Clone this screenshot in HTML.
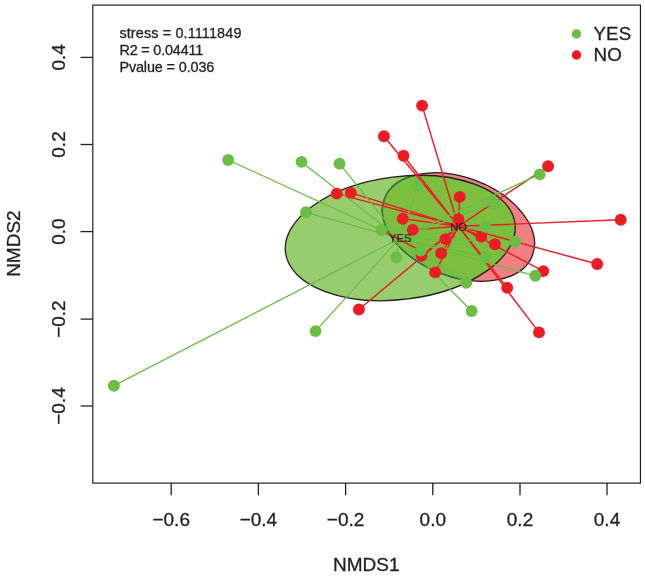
<!DOCTYPE html>
<html lang="en"><head><meta charset="utf-8"><title>NMDS ordination</title>
<style>
html,body{margin:0;padding:0;background:#fff}
svg{display:block;filter:blur(0.35px)}
text{font-family:"Liberation Sans",sans-serif;fill:#231f20;stroke:#231f20;stroke-width:0.3px}
.ax{font-size:19px}
.lg{font-size:18.8px}
.st{font-size:14.4px}
.cl{font-size:11.1px;stroke-width:0.15px}
</style></head><body>
<svg width="645" height="576" viewBox="0 0 645 576">
<rect width="645" height="576" fill="#fff"/>
<defs>
<clipPath id="cg"><ellipse cx="400.23" cy="238.02" rx="115.66" ry="61.44" transform="rotate(-7.2 400.23 238.02)" /></clipPath>
<clipPath id="cr"><ellipse cx="458.44" cy="227.0" rx="79.22" ry="49.58" transform="rotate(20.88 458.44 227.0)" /></clipPath>
</defs>
<ellipse cx="458.44" cy="227.0" rx="79.22" ry="49.58" transform="rotate(20.88 458.44 227.0)" fill="#f18083"/>
<ellipse cx="400.23" cy="238.02" rx="115.66" ry="61.44" transform="rotate(-7.2 400.23 238.02)" fill="#97cd6c"/>
<g clip-path="url(#cr)"><ellipse cx="400.23" cy="238.02" rx="115.66" ry="61.44" transform="rotate(-7.2 400.23 238.02)" fill="#7cbf3e"/></g>
<ellipse cx="458.44" cy="227.0" rx="79.22" ry="49.58" transform="rotate(20.88 458.44 227.0)" fill="none" stroke="#231f20" stroke-width="1.3"/>
<g clip-path="url(#cg)"><ellipse cx="458.44" cy="227.0" rx="79.22" ry="49.58" transform="rotate(20.88 458.44 227.0)" fill="none" stroke="#1f8a4c" stroke-width="1.1"/></g>
<ellipse cx="400.23" cy="238.02" rx="115.66" ry="61.44" transform="rotate(-7.2 400.23 238.02)" fill="none" stroke="#231f20" stroke-width="1.3"/>
<g stroke="#ed1c24" stroke-width="1.45" fill="none">
<line x1="422.1" y1="105.6" x2="458.4" y2="226.3"/>
<line x1="383.9" y1="136.3" x2="458.4" y2="226.3"/>
<line x1="403.5" y1="155.7" x2="458.4" y2="226.3"/>
<line x1="548.1" y1="166.3" x2="458.4" y2="226.3"/>
<line x1="336.7" y1="193.6" x2="458.4" y2="226.3"/>
<line x1="350.9" y1="192.9" x2="458.4" y2="226.3"/>
<line x1="620.7" y1="219.8" x2="458.4" y2="226.3"/>
<line x1="597.2" y1="264" x2="458.4" y2="226.3"/>
<line x1="543.3" y1="271.1" x2="458.4" y2="226.3"/>
<line x1="507.2" y1="287.7" x2="458.4" y2="226.3"/>
<line x1="539" y1="332.4" x2="458.4" y2="226.3"/>
<line x1="358.9" y1="309.5" x2="458.4" y2="226.3"/>
<line x1="459.7" y1="196.9" x2="458.4" y2="226.3"/>
<line x1="458.4" y1="219.4" x2="458.4" y2="226.3"/>
<line x1="402.8" y1="218.7" x2="458.4" y2="226.3"/>
<line x1="412.7" y1="229.9" x2="458.4" y2="226.3"/>
<line x1="445.4" y1="239.1" x2="458.4" y2="226.3"/>
<line x1="441.2" y1="253.2" x2="458.4" y2="226.3"/>
<line x1="421.6" y1="255.8" x2="458.4" y2="226.3"/>
<line x1="435.2" y1="272.4" x2="458.4" y2="226.3"/>
<line x1="481.3" y1="236.5" x2="458.4" y2="226.3"/>
<line x1="494.9" y1="244.3" x2="458.4" y2="226.3"/>
</g>
<g stroke="#6abd45" stroke-width="1.3" fill="none">
<line x1="306" y1="212.3" x2="399.6" y2="238.4"/>
<line x1="417.6" y1="186.2" x2="399.6" y2="238.4"/>
<line x1="381.5" y1="230.0" x2="399.6" y2="238.4"/>
<line x1="396.3" y1="257.3" x2="399.6" y2="238.4"/>
<line x1="420.6" y1="250.6" x2="399.6" y2="238.4"/>
<line x1="493.9" y1="203.3" x2="399.6" y2="238.4"/>
<line x1="485.2" y1="226.7" x2="399.6" y2="238.4"/>
<line x1="485.6" y1="257" x2="399.6" y2="238.4"/>
<line x1="466.2" y1="282.8" x2="399.6" y2="238.4"/>
<line x1="113.9" y1="385.7" x2="399.6" y2="238.4"/>
<line x1="228.2" y1="160" x2="399.6" y2="238.4"/>
<line x1="301.5" y1="161.9" x2="399.6" y2="238.4"/>
<line x1="339.5" y1="163.6" x2="399.6" y2="238.4"/>
<line x1="315.5" y1="331.1" x2="399.6" y2="238.4"/>
<line x1="539.7" y1="174.4" x2="399.6" y2="238.4"/>
<line x1="535.3" y1="275.8" x2="399.6" y2="238.4"/>
<line x1="515.3" y1="241.7" x2="399.6" y2="238.4"/>
<line x1="471.6" y1="311" x2="399.6" y2="238.4"/>
</g>
<line x1="381.5" y1="230.0" x2="420.6" y2="250.6" stroke="#ed1c24" stroke-width="1.45"/>
<g fill="#ed1c24">
<circle cx="422.1" cy="105.6" r="5.95"/>
<circle cx="383.9" cy="136.3" r="5.95"/>
<circle cx="403.5" cy="155.7" r="5.95"/>
<circle cx="548.1" cy="166.3" r="5.95"/>
<circle cx="336.7" cy="193.6" r="5.95"/>
<circle cx="350.9" cy="192.9" r="5.95"/>
<circle cx="620.7" cy="219.8" r="5.95"/>
<circle cx="597.2" cy="264" r="5.95"/>
<circle cx="543.3" cy="271.1" r="5.95"/>
<circle cx="507.2" cy="287.7" r="5.95"/>
<circle cx="539" cy="332.4" r="5.95"/>
<circle cx="358.9" cy="309.5" r="5.95"/>
<circle cx="459.7" cy="196.9" r="5.95"/>
<circle cx="458.4" cy="219.4" r="5.95"/>
<circle cx="402.8" cy="218.7" r="5.95"/>
<circle cx="412.7" cy="229.9" r="5.95"/>
<circle cx="445.4" cy="239.1" r="5.95"/>
<circle cx="441.2" cy="253.2" r="5.95"/>
<circle cx="421.6" cy="255.8" r="5.95"/>
<circle cx="435.2" cy="272.4" r="5.95"/>
<circle cx="481.3" cy="236.5" r="5.95"/>
<circle cx="494.9" cy="244.3" r="5.95"/>
</g>
<g fill="#6abd45">
<circle cx="306" cy="212.3" r="5.95"/>
<circle cx="417.6" cy="186.2" r="5.95"/>
<circle cx="381.5" cy="230.0" r="5.95"/>
<circle cx="396.3" cy="257.3" r="5.95"/>
<circle cx="420.6" cy="250.6" r="5.95"/>
<circle cx="493.9" cy="203.3" r="5.95"/>
<circle cx="485.2" cy="226.7" r="5.95"/>
<circle cx="485.6" cy="257" r="5.95"/>
<circle cx="466.2" cy="282.8" r="5.95"/>
<circle cx="113.9" cy="385.7" r="5.95"/>
<circle cx="228.2" cy="160" r="5.95"/>
<circle cx="301.5" cy="161.9" r="5.95"/>
<circle cx="339.5" cy="163.6" r="5.95"/>
<circle cx="315.5" cy="331.1" r="5.95"/>
<circle cx="539.7" cy="174.4" r="5.95"/>
<circle cx="535.3" cy="275.8" r="5.95"/>
<circle cx="515.3" cy="241.7" r="5.95"/>
<circle cx="471.6" cy="311" r="5.95"/>
</g>
<text class="cl" x="400.2" y="242.3" text-anchor="middle">YES</text>
<text class="cl" x="458.6" y="230.8" text-anchor="middle">NO</text>
<rect x="92.8" y="5.1" width="547.6500000000001" height="478.0" fill="none" stroke="#231f20" stroke-width="1.2"/>
<g stroke="#231f20" stroke-width="1.3">
<line x1="171.2" y1="483.1" x2="171.2" y2="495.3"/>
<line x1="258.4" y1="483.1" x2="258.4" y2="495.3"/>
<line x1="345.6" y1="483.1" x2="345.6" y2="495.3"/>
<line x1="432.8" y1="483.1" x2="432.8" y2="495.3"/>
<line x1="520.0" y1="483.1" x2="520.0" y2="495.3"/>
<line x1="607.0" y1="483.1" x2="607.0" y2="495.3"/>
<line x1="92.8" y1="57.4" x2="80.6" y2="57.4"/>
<line x1="92.8" y1="144.5" x2="80.6" y2="144.5"/>
<line x1="92.8" y1="231.6" x2="80.6" y2="231.6"/>
<line x1="92.8" y1="319.1" x2="80.6" y2="319.1"/>
<line x1="92.8" y1="406.0" x2="80.6" y2="406.0"/>
</g>
<text class="ax" x="171.2" y="525.6" text-anchor="middle">−0.6</text>
<text class="ax" x="258.4" y="525.6" text-anchor="middle">−0.4</text>
<text class="ax" x="345.6" y="525.6" text-anchor="middle">−0.2</text>
<text class="ax" x="432.8" y="525.6" text-anchor="middle">0.0</text>
<text class="ax" x="520.0" y="525.6" text-anchor="middle">0.2</text>
<text class="ax" x="607.0" y="525.6" text-anchor="middle">0.4</text>
<text class="ax" transform="translate(65 57.4) rotate(-90)" text-anchor="middle">0.4</text>
<text class="ax" transform="translate(65 144.5) rotate(-90)" text-anchor="middle">0.2</text>
<text class="ax" transform="translate(65 231.6) rotate(-90)" text-anchor="middle">0.0</text>
<text class="ax" transform="translate(65 319.1) rotate(-90)" text-anchor="middle">−0.2</text>
<text class="ax" transform="translate(65 406.0) rotate(-90)" text-anchor="middle">−0.4</text>
<text class="ax" x="366.2" y="570.6" text-anchor="middle">NMDS1</text>
<text class="ax" transform="translate(20 243.6) rotate(-90)" text-anchor="middle">NMDS2</text>
<text class="st" x="119.4" y="37.6" textLength="122" lengthAdjust="spacing">stress = 0.1111849</text>
<text class="st" x="119.4" y="54.7" textLength="83.9" lengthAdjust="spacing">R2 = 0.04411</text>
<text class="st" x="119.4" y="71.8" textLength="94.9" lengthAdjust="spacing">Pvalue = 0.036</text>
<circle cx="576.5" cy="34" r="4.7" fill="#6abd45"/><circle cx="576.5" cy="55" r="4.7" fill="#ed1c24"/>
<text class="lg" x="593.6" y="39.6">YES</text><text class="lg" x="593.6" y="60.5">NO</text>
</svg></body></html>
